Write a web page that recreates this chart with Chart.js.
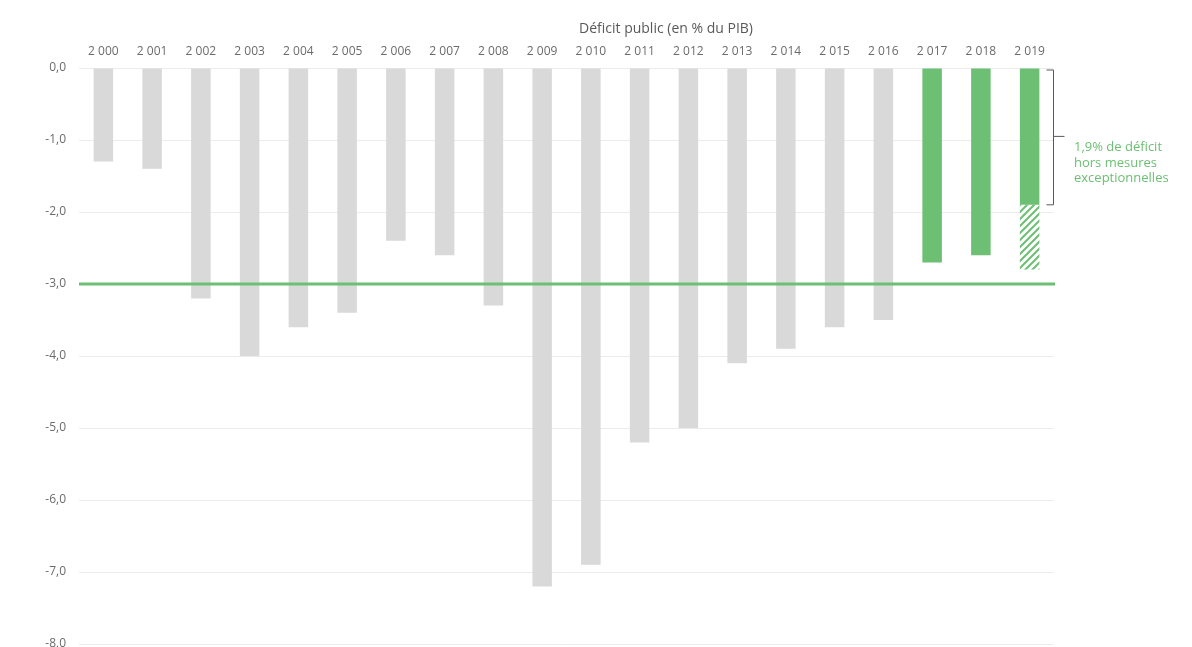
<!DOCTYPE html>
<html>
<head>
<meta charset="utf-8">
<script src="https://cdn.jsdelivr.net/npm/chart.js@4/dist/chart.umd.min.js"></script>
<style>
html,body{margin:0;padding:0;background:#fff;}
#wrap{width:1192px;height:647px;}
</style>
</head>
<body>
<div id="wrap"><canvas id="c" width="1192" height="647"></canvas></div>
<script>
// Déficit public (en % du PIB)
const years=['2 000','2 001','2 002','2 003','2 004','2 005','2 006','2 007','2 008','2 009','2 010','2 011','2 012','2 013','2 014','2 015','2 016','2 017','2 018','2 019'];
const deficit=[-1.3,-1.4,-3.2,-4.0,-3.6,-3.4,-2.4,-2.6,-3.3,-7.2,-6.9,-5.2,-5.0,-4.1,-3.9,-3.6,-3.5,-2.7,-2.6,-1.9];
// part of 2019 due to exceptional measures (stacked under the solid part)
const exceptionnel=[null,null,null,null,null,null,null,null,null,null,null,null,null,null,null,null,null,null,null,-0.9];
const highlightFrom=17; // 2017 onwards in green
const seuil=-3;
const yTicks=[0,-1,-2,-3,-4,-5,-6,-7,-8];
const noteLines=['1,9% de déficit','hors mesures','exceptionnelles'];

const GREY='#d9d9d9', GREEN='#6cbf73', TXT='#6b6b6b';
const FONT='"Open Sans", "DejaVu Sans", sans-serif';

function hatch(){
  const p=document.createElement('canvas'); p.width=7; p.height=7;
  const g=p.getContext('2d'); g.fillStyle='#fff'; g.fillRect(0,0,7,7);
  g.strokeStyle=GREEN; g.lineWidth=2;
  g.beginPath(); g.moveTo(-1,8); g.lineTo(8,-1); g.moveTo(-1,1); g.lineTo(1,-1); g.moveTo(6,8); g.lineTo(8,6); g.stroke();
  return document.getElementById('c').getContext('2d').createPattern(p,'repeat');
}

const extras={
  id:'extras',
  afterDatasetsDraw(chart){
    const {ctx,chartArea:a,scales:{y}}=chart;
    // 3% threshold line
    const ys=y.getPixelForValue(seuil);
    ctx.save();
    ctx.strokeStyle=GREEN; ctx.lineWidth=3;
    ctx.beginPath(); ctx.moveTo(a.left,ys); ctx.lineTo(a.right+1,ys); ctx.stroke();
    // bracket for 2019
    const y0=y.getPixelForValue(0), y1=y.getPixelForValue(deficit[deficit.length-1]);
    const bx=a.right-0.5;
    ctx.strokeStyle='#5a5a5a'; ctx.lineWidth=1;
    ctx.beginPath();
    ctx.moveTo(bx-7,y0+2); ctx.lineTo(bx,y0+2); ctx.lineTo(bx,y1); ctx.lineTo(bx-7,y1);
    const ym=(y0+y1)/2;
    ctx.moveTo(bx,ym); ctx.lineTo(bx+11,ym);
    ctx.stroke();
    ctx.fillStyle=GREEN; ctx.font='13px '+FONT; ctx.textBaseline='middle';
    noteLines.forEach((t,i)=>ctx.fillText(t,a.right+20,ym+11+i*15.5));
    // title
    ctx.fillStyle='#595959'; ctx.font='14px '+FONT; ctx.textAlign='center';
    ctx.fillText('Déficit public (en % du PIB)',666,29);
    ctx.restore();
  }
};

new Chart(document.getElementById('c'),{
  type:'bar',
  data:{labels:years,datasets:[
    {data:deficit,backgroundColor:deficit.map((v,i)=>i>=highlightFrom?GREEN:GREY),barPercentage:0.4,categoryPercentage:1,stack:'s'},
    {data:exceptionnel,backgroundColor:hatch(),borderColor:GREEN,borderWidth:0,barPercentage:0.4,categoryPercentage:1,stack:'s'}
  ]},
  options:{
    responsive:false,animation:false,
    layout:{padding:{top:44,right:138,bottom:0,left:0}},
    plugins:{legend:{display:false},tooltip:{enabled:false}},
    scales:{
      x:{position:'top',stacked:true,grid:{display:false},border:{display:false},
        ticks:{color:TXT,font:{family:FONT,size:12},padding:1,maxRotation:0,autoSkip:false},
        afterFit(s){s.height=24;}},
      y:{stacked:true,min:-8,max:0,
        afterBuildTicks(s){s.ticks=yTicks.map(v=>({value:v}));},
        ticks:{color:TXT,font:{family:FONT,size:12},padding:13,callback:v=>v.toFixed(1).replace('.',',')},
        grid:{color:'#ececec',drawTicks:false},border:{display:false},
        afterFit(s){s.width=79;s.paddingTop=0;s.paddingBottom=3;}}
    }
  },
  plugins:[extras]
});
</script>
</body>
</html>
